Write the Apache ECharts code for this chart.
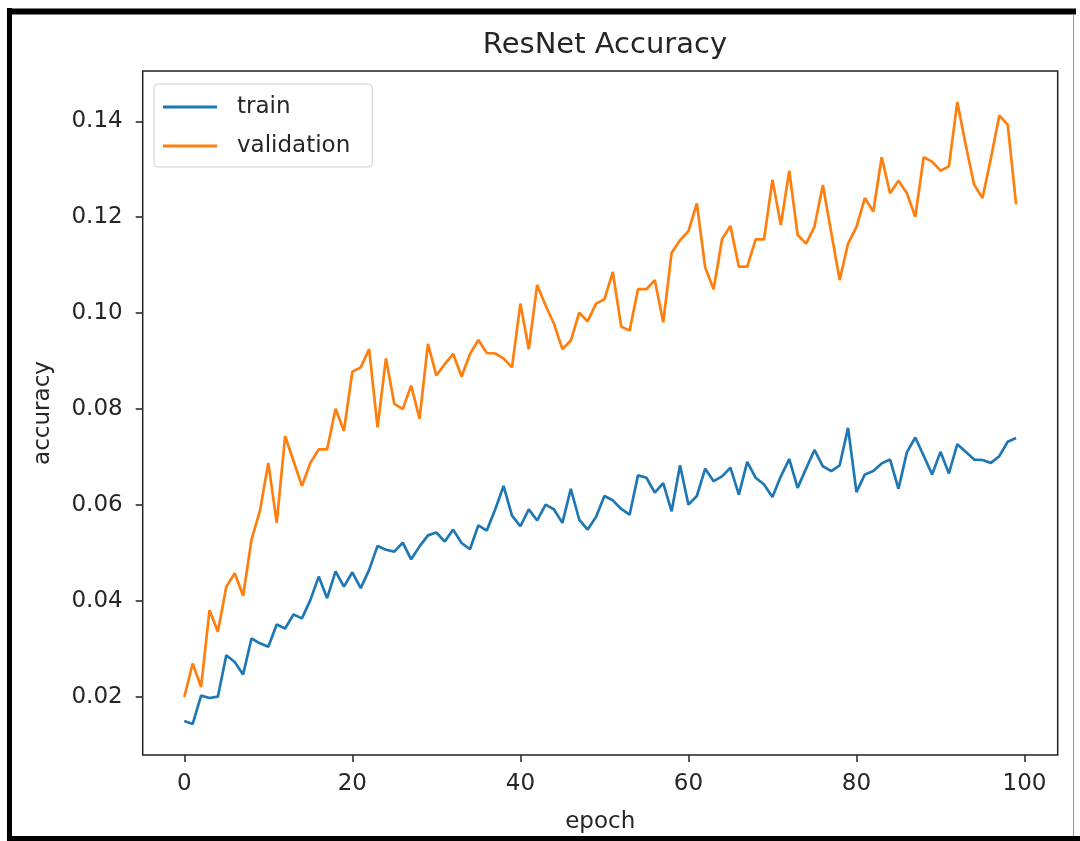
<!DOCTYPE html>
<html>
<head>
<meta charset="utf-8">
<title>ResNet Accuracy</title>
<script src="https://cdn.jsdelivr.net/npm/echarts@6/dist/echarts.min.js"></script>
<style>
  html, body { margin: 0; padding: 0; background: #fff; }
  #chart { width: 1080px; height: 841px; }
</style>
</head>
<body>
<div id="chart"></div>
<script>
// values, one per epoch (0..99)
const train = [
  0.0150, 0.0144, 0.0203, 0.0198, 0.0201, 0.0287, 0.0273, 0.0247, 0.0322, 0.0312,
  0.0305, 0.0351, 0.0343, 0.0372, 0.0364, 0.0402, 0.0451, 0.0406, 0.0462, 0.0430,
  0.0460, 0.0427, 0.0465, 0.0515, 0.0507, 0.0503, 0.0522, 0.0487, 0.0514, 0.0537,
  0.0543, 0.0524, 0.0549, 0.0521, 0.0508, 0.0558, 0.0547, 0.0591, 0.0640, 0.0578,
  0.0556, 0.0591, 0.0568, 0.0601, 0.0591, 0.0563, 0.0634, 0.0570, 0.0549, 0.0575,
  0.0619, 0.0610, 0.0592, 0.0580, 0.0662, 0.0657, 0.0626, 0.0646, 0.0587, 0.0683,
  0.0601, 0.0619, 0.0676, 0.0650, 0.0660, 0.0678, 0.0622, 0.0690, 0.0657, 0.0643,
  0.0617, 0.0660, 0.0696, 0.0636, 0.0676, 0.0715, 0.0681, 0.0671, 0.0683, 0.0761,
  0.0627, 0.0664, 0.0671, 0.0687, 0.0695, 0.0634, 0.0710, 0.0741, 0.0703, 0.0664,
  0.0711, 0.0666, 0.0727, 0.0711, 0.0695, 0.0694, 0.0688, 0.0702, 0.0732, 0.0740
];
const validation = [
  0.0200, 0.0270, 0.0221, 0.0381, 0.0336, 0.0430, 0.0458, 0.0411, 0.0528, 0.0588,
  0.0688, 0.0563, 0.0744, 0.0692, 0.0640, 0.0688, 0.0716, 0.0716, 0.0801, 0.0755,
  0.0878, 0.0887, 0.0925, 0.0762, 0.0906, 0.0811, 0.0800, 0.0849, 0.0780, 0.0936,
  0.0870, 0.0894, 0.0915, 0.0868, 0.0915, 0.0944, 0.0917, 0.0916, 0.0906, 0.0887,
  0.1020, 0.0925, 0.1059, 0.1016, 0.0978, 0.0925, 0.0943, 0.1001, 0.0983, 0.1020,
  0.1029, 0.1086, 0.0972, 0.0964, 0.1050, 0.1050, 0.1069, 0.0981, 0.1126, 0.1152,
  0.1171, 0.1229, 0.1095, 0.1050, 0.1154, 0.1182, 0.1097, 0.1097, 0.1154, 0.1154,
  0.1278, 0.1184, 0.1297, 0.1163, 0.1145, 0.1180, 0.1267, 0.1168, 0.1069, 0.1145,
  0.1180, 0.1240, 0.1212, 0.1325, 0.1250, 0.1276, 0.1250, 0.1201, 0.1325, 0.1316,
  0.1297, 0.1306, 0.1440, 0.1351, 0.1268, 0.1240, 0.1323, 0.1412, 0.1393, 0.1227
];
const xTicks = [0, 20, 40, 60, 80, 100];
const yTicks = [0.02, 0.04, 0.06, 0.08, 0.10, 0.12, 0.14];

const font = 'DejaVu Sans';
const ink = '#262626';

const epochs = train.map((_, i) => i);
const pairs = arr => arr.map((v, i) => [epochs[i], v]);

// matplotlib style 5% margins around the data
const xPad = (epochs[epochs.length - 1] - epochs[0]) * 0.05;
const allY = train.concat(validation);
const yMinD = Math.min(...allY), yMaxD = Math.max(...allY);
const yPad = (yMaxD - yMinD) * 0.05;

const chart = echarts.init(document.getElementById('chart'), null, { renderer: 'canvas' });

chart.setOption({
  animation: false,
  backgroundColor: '#fff',
  textStyle: { fontFamily: font, color: ink },
  title: {
    text: 'ResNet Accuracy',
    left: 600,
    top: 26,
    textAlign: 'center',
    textStyle: { fontFamily: font, fontSize: 29, fontWeight: 'normal', color: ink }
  },
  legend: {
    left: 154,
    top: 84,
    orient: 'vertical',
    icon: 'rect',
    itemWidth: 54,
    itemHeight: 3,
    itemGap: 11,
    padding: [9, 22, 7, 9],
    borderColor: '#d0d0d0',
    borderWidth: 1,
    borderRadius: 4,
    backgroundColor: 'rgba(255,255,255,0.8)',
    textStyle: { fontFamily: font, fontSize: 23, color: ink, lineHeight: 28, padding: [0, 0, 0, 15] },
    data: ['train', 'validation']
  },
  grid: {
    left: 142.7,
    right: 22.3,
    top: 71,
    bottom: 86,
    show: true,
    borderColor: '#222',
    borderWidth: 1.5,
    backgroundColor: 'transparent'
  },
  xAxis: {
    type: 'value',
    min: epochs[0] - xPad,
    max: epochs[epochs.length - 1] + xPad,
    name: 'epoch',
    nameLocation: 'middle',
    nameGap: 56,
    nameTextStyle: { fontFamily: font, fontSize: 23, color: ink },
    axisLine: { show: false, onZero: false },
    axisTick: { show: true, inside: false, length: 7, customValues: xTicks, lineStyle: { color: '#222', width: 1.5 } },
    axisLabel: { customValues: xTicks, fontFamily: font, fontSize: 23, color: ink, margin: 18 },
    splitLine: { show: false }
  },
  yAxis: {
    type: 'value',
    min: yMinD - yPad,
    max: yMaxD + yPad,
    name: 'accuracy',
    nameLocation: 'middle',
    nameGap: 88,
    nameTextStyle: { fontFamily: font, fontSize: 23, color: ink },
    axisLine: { show: false, onZero: false },
    axisTick: { show: true, inside: false, length: 7, customValues: yTicks, lineStyle: { color: '#222', width: 1.5 } },
    axisLabel: {
      customValues: yTicks,
      fontFamily: font, fontSize: 23, color: ink, margin: 20,
      formatter: v => v.toFixed(2)
    },
    splitLine: { show: false }
  },
  series: [
    {
      name: 'train',
      type: 'line',
      data: pairs(train),
      symbol: 'none',
      lineStyle: { color: '#1f77b4', width: 2.7 },
      itemStyle: { color: '#1f77b4' }
    },
    {
      name: 'validation',
      type: 'line',
      data: pairs(validation),
      symbol: 'none',
      lineStyle: { color: '#ff7f0e', width: 2.7 },
      itemStyle: { color: '#ff7f0e' }
    }
  ],
  graphic: [
    // screenshot frame around the figure
    { type: 'line', shape: { x1: 9.5, y1: 8, x2: 9.5, y2: 841 }, style: { stroke: '#000', lineWidth: 5 } },
    { type: 'line', shape: { x1: 7, y1: 11.5, x2: 1076, y2: 11.5 }, style: { stroke: '#000', lineWidth: 6 } },
    { type: 'line', shape: { x1: 7, y1: 838.5, x2: 1080, y2: 838.5 }, style: { stroke: '#000', lineWidth: 5 } },
    { type: 'line', shape: { x1: 1073.5, y1: 14, x2: 1073.5, y2: 836 }, style: { stroke: '#999', lineWidth: 1 } }
  ]
});

window.addEventListener('resize', () => chart.resize());
</script>
</body>
</html>
